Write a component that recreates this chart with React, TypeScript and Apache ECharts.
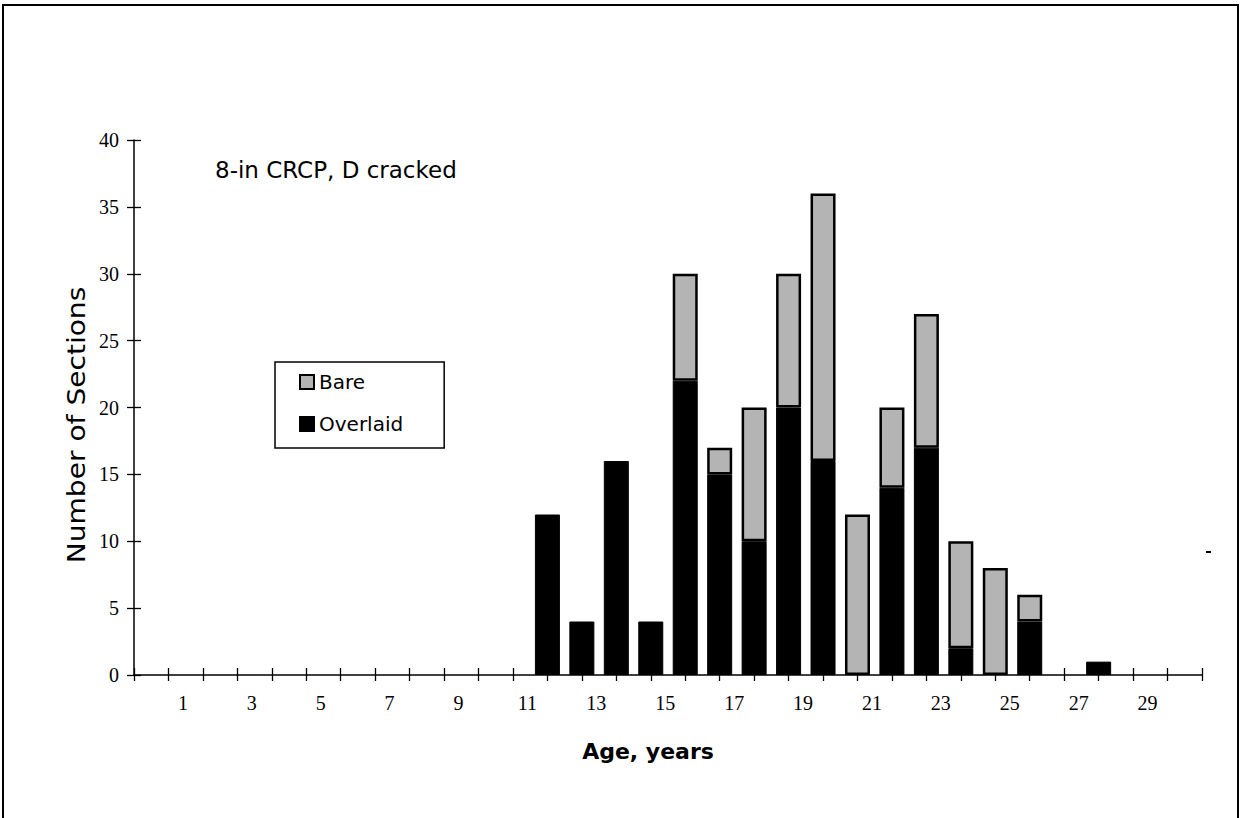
import React, { useEffect, useRef } from "react";
import * as echarts from "echarts";

// Category slots along the x axis (first slot sits on the y axis, unlabeled)
const ageCategories = [
  "", "0", "1", "2", "3", "4", "5", "6", "7", "8", "9", "10",
  "11", "12", "13", "14", "15", "16", "17", "18", "19", "20",
  "21", "22", "23", "24", "25", "26", "27", "28", "29", "30",
];
const shownAgeLabels = ["1", "3", "5", "7", "9", "11", "13", "15", "17", "19", "21", "23", "25", "27", "29"];

// Number of sections per age (null = none)
const overlaidCounts = [
  null, null, null, null, null, null, null, null, null, null, null, null,
  12, 4, 16, 4, 22, 15, 10, 20, 16, null, 14, 17, 2, null, 4, null, 1,
  null, null, null,
];
const bareCounts = [
  null, null, null, null, null, null, null, null, null, null, null, null,
  null, null, null, null, 8, 2, 10, 10, 20, 12, 6, 10, 8, 8, 2, null, null,
  null, null, null,
];

const yMin = 0;
const yMax = 40;
const yInterval = 5;

const chartTitle = "8-in CRCP, D cracked";
const xAxisTitle = "Age, years";
const yAxisTitle = "Number of Sections";
const legendOrder = ["Bare", "Overlaid"];

const SANS = '"DejaVu Sans", "Liberation Sans", Arial, sans-serif';
const SERIF = '"Liberation Serif", "Times New Roman", serif';

export default function App() {
  const ref = useRef<HTMLDivElement>(null);

  useEffect(() => {
    document.body.style.margin = "0";
    if (!ref.current) return;
    const chart = echarts.init(ref.current, null, { renderer: "svg" });

    const commonX = {
      type: "category" as const,
      data: ageCategories,
      boundaryGap: false,
      position: "bottom" as const,
    };
    const commonY = {
      type: "value" as const,
      min: yMin,
      max: yMax,
      interval: yInterval,
      position: "left" as const,
      splitLine: { show: false },
    };

    chart.setOption({
      animation: false,
      backgroundColor: "#ffffff",
      grid: { left: 134, right: 46, top: 140, bottom: 143, outerBoundsMode: "none" },
      legend: {
        data: legendOrder,
        orient: "vertical",
        left: 275,
        top: 362,
        icon: "rect",
        itemWidth: 14,
        itemHeight: 14,
        itemGap: 22,
        padding: [10, 41, 14, 24],
        borderColor: "#000",
        borderWidth: 1.5,
        borderRadius: 0,
        selectedMode: false,
        textStyle: { fontFamily: SANS, fontSize: 20, color: "#000" },
      },
      xAxis: [
        {
          ...commonX,
          axisLine: { show: true, onZero: false, lineStyle: { color: "#000", width: 1.5 } },
          axisTick: { show: true, interval: 0, length: 6, lineStyle: { color: "#000", width: 1.3 } },
          axisLabel: {
            interval: (index: number, value: string) => shownAgeLabels.indexOf(value) >= 0,
            fontFamily: SERIF,
            fontSize: 20,
            color: "#000",
            margin: 18,
            padding: [0, 40, 0, 0],
          },
        },
        {
          ...commonX,
          axisLine: { show: false },
          axisTick: { show: true, inside: true, interval: 0, length: 7, lineStyle: { color: "#000", width: 1.3 } },
          axisLabel: { show: false },
        },
      ],
      yAxis: [
        {
          ...commonY,
          axisLine: { show: true, lineStyle: { color: "#000", width: 1.5 } },
          axisTick: { show: true, length: 7, lineStyle: { color: "#000", width: 1.3 } },
          axisLabel: { fontFamily: SERIF, fontSize: 20, color: "#000", margin: 15 },
        },
        {
          ...commonY,
          axisLine: { show: false },
          axisTick: { show: true, inside: true, length: 7, lineStyle: { color: "#000", width: 1.3 } },
          axisLabel: { show: false },
        },
      ],
      series: [
        {
          name: "Overlaid",
          type: "bar",
          stack: "total",
          xAxisIndex: 0,
          yAxisIndex: 0,
          barWidth: 25,
          data: overlaidCounts,
          itemStyle: { color: "#000", borderColor: "#000", borderWidth: 1 },
        },
        {
          name: "Bare",
          type: "bar",
          stack: "total",
          xAxisIndex: 0,
          yAxisIndex: 0,
          barWidth: 25,
          data: bareCounts,
          itemStyle: { color: "#b4b4b4", borderColor: "#000", borderWidth: 2.5 },
        },
      ],
      graphic: [
        {
          type: "rect",
          shape: { x: 3, y: 5, width: 1235, height: 830 },
          style: { fill: "none", stroke: "#000", lineWidth: 2 },
          silent: true,
        },
        {
          type: "text",
          x: 215,
          y: 170,
          style: {
            text: chartTitle,
            font: `23px ${SANS}`,
            fill: "#000",
            align: "left",
            verticalAlign: "middle",
          },
        },
        {
          type: "text",
          x: 648,
          y: 751,
          style: {
            text: xAxisTitle,
            font: `bold 22px ${SANS}`,
            fill: "#000",
            align: "center",
            verticalAlign: "middle",
          },
        },
        {
          type: "text",
          x: 77,
          y: 425,
          rotation: Math.PI / 2,
          scaleX: 1.17,
          style: {
            text: yAxisTitle,
            font: `24px ${SANS}`,
            fill: "#000",
            align: "center",
            verticalAlign: "middle",
          },
        },
        {
          type: "line",
          shape: { x1: 1206, y1: 552, x2: 1211, y2: 552 },
          style: { stroke: "#000", lineWidth: 2 },
          silent: true,
        },
      ],
    });

    return () => chart.dispose();
  }, []);

  return <div ref={ref} style={{ width: 1248, height: 818 }} />;
}
